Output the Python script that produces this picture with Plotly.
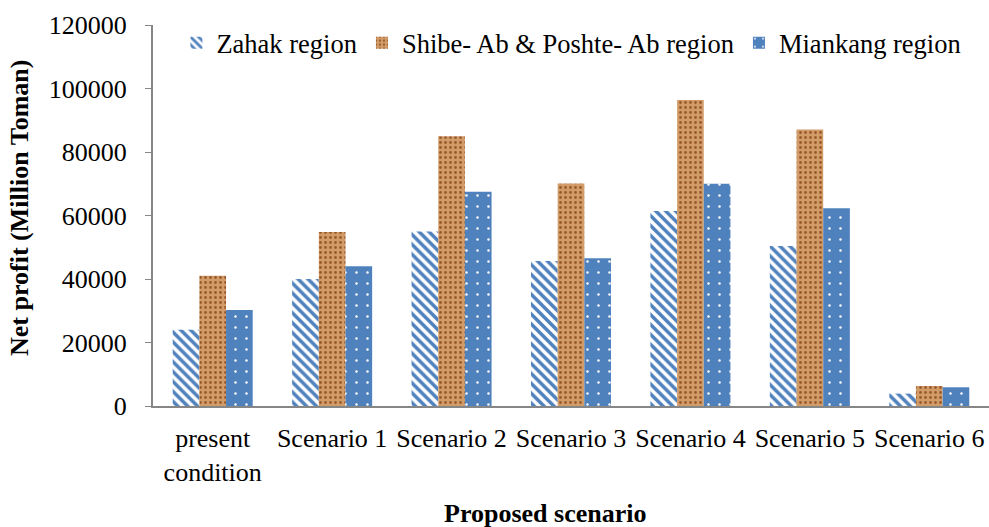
import plotly.graph_objects as go

categories = ["present<br>condition", "Scenario 1", "Scenario 2", "Scenario 3",
              "Scenario 4", "Scenario 5", "Scenario 6"]
zahak = [24000, 40000, 55000, 45700, 61400, 50400, 3900]
shibe = [41000, 54800, 85000, 70100, 96400, 87100, 6300]
miankang = [30200, 44000, 67500, 46500, 70000, 62300, 5900]
series_names = ["Zahak region", "Shibe- Ab & Poshte- Ab region", "Miankang region"]
y_ticks = [0, 20000, 40000, 60000, 80000, 100000, 120000]

FONT = "Liberation Serif, Times New Roman, serif"
BLUE = "#4F81BD"

fig = go.Figure()
fig.add_trace(go.Bar(
    x=categories, y=zahak, name=series_names[0],
    marker=dict(color=BLUE, line=dict(width=0),
                pattern=dict(shape="\\", fgcolor=BLUE, bgcolor="white",
                             size=7, solidity=0.5, fillmode="replace")),
))
fig.add_trace(go.Bar(
    x=categories, y=shibe, name=series_names[1],
    marker=dict(color="#C98D58", line=dict(width=0),
                pattern=dict(shape=".", fgcolor="#9A5A2C", bgcolor="#D29C68",
                             size=5, solidity=0.25, fillmode="replace")),
))
fig.add_trace(go.Bar(
    x=categories, y=miankang, name=series_names[2],
    marker=dict(color=BLUE, line=dict(width=0),
                pattern=dict(shape=".", fgcolor="white", bgcolor=BLUE,
                             size=11, solidity=0.04, fillmode="replace")),
))

fig.update_layout(
    width=989, height=527,
    margin=dict(l=153, r=0, t=25, b=121),
    paper_bgcolor="white", plot_bgcolor="white",
    font=dict(family=FONT, size=26, color="black"),
    barmode="group", bargap=0.33, bargroupgap=0,
    showlegend=True,
    legend=dict(orientation="h", x=0.028, xanchor="left", y=0.953, yanchor="middle",
                font=dict(family=FONT, size=26.5, color="black"),
                bgcolor="rgba(0,0,0,0)", itemwidth=30, traceorder="normal"),
    xaxis=dict(showline=True, linecolor="#868686", linewidth=2, ticks="",
               showgrid=False, tickfont=dict(family=FONT, size=26, color="black"),
               ticklabelstandoff=8),
    yaxis=dict(range=[0, 120000], tickvals=y_ticks, ticktext=[str(v) for v in y_ticks],
               showline=True, linecolor="#868686", linewidth=2,
               ticks="outside", ticklen=6, tickcolor="#868686", tickwidth=1,
               showgrid=False, zeroline=False,
               tickfont=dict(family=FONT, size=26, color="black"),
               ticklabelstandoff=13),
    annotations=[
        dict(text="Net profit (Million Toman)", textangle=-90, xref="paper", yref="paper",
             x=-0.159, y=0.52, xanchor="center", yanchor="middle", showarrow=False,
             font=dict(family=FONT, size=26, color="black", weight="bold")),
        dict(text="Proposed scenario", xref="paper", yref="paper",
             x=0.469, y=-0.281, xanchor="center", yanchor="middle", showarrow=False,
             font=dict(family=FONT, size=26, color="black", weight="bold")),
    ],
)

fig.write_html("out.html", config={"displayModeBar": False},
               post_script="document.body.style.margin='0';")
